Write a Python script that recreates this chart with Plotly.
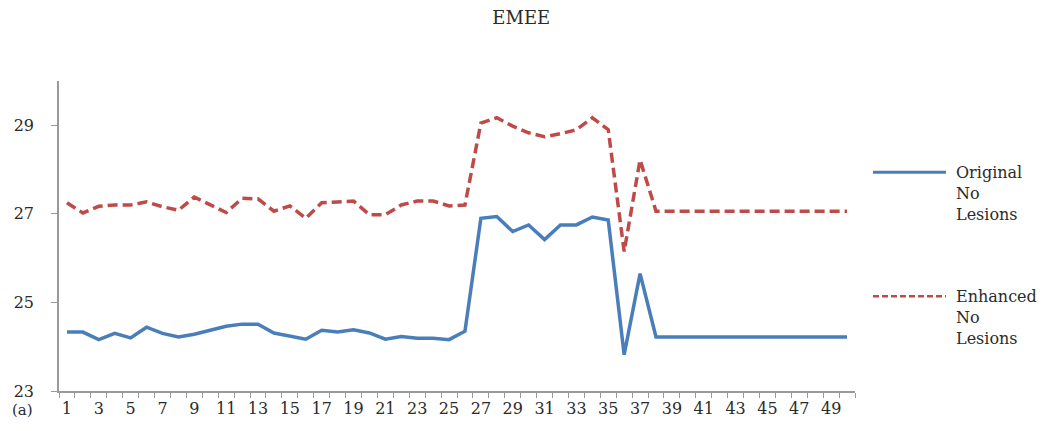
import plotly.graph_objects as go

images = list(range(1, 51))
original = [24.33, 24.33, 24.16, 24.30, 24.20, 24.44, 24.30, 24.22, 24.28, 24.37,
            24.46, 24.51, 24.51, 24.31, 24.23, 24.17, 24.37, 24.33, 24.38, 24.31,
            24.17, 24.23, 24.19, 24.19, 24.16, 24.35, 26.90, 26.94, 26.60, 26.75,
            26.42, 26.75, 26.75, 26.93, 26.86, 23.82, 25.65, 24.22, 24.22, 24.22,
            24.22, 24.22, 24.22, 24.22, 24.22, 24.22, 24.22, 24.22, 24.22, 24.22]
enhanced = [27.25, 27.02, 27.17, 27.20, 27.20, 27.27, 27.16, 27.08, 27.38, 27.20,
            27.03, 27.35, 27.34, 27.06, 27.18, 26.90, 27.25, 27.27, 27.29, 26.98,
            26.98, 27.20, 27.29, 27.29, 27.18, 27.20, 29.05, 29.17, 28.98, 28.83,
            28.74, 28.81, 28.90, 29.17, 28.90, 26.15, 28.22, 27.06, 27.06, 27.06,
            27.06, 27.06, 27.06, 27.06, 27.06, 27.06, 27.06, 27.06, 27.06, 27.06]
series_names = ["Original<br>No<br>Lesions", "Enhanced<br>No<br>Lesions"]
x_ticks = list(range(1, 50, 2))
y_ticks = [23, 25, 27, 29]

BLUE = "#4A7EBB"
RED = "#BE4B48"
FONT = "DejaVu Serif"
TXT = "#2b2b2b"

fig = go.Figure()
fig.add_trace(go.Scatter(x=images, y=original, mode="lines",
                         line=dict(color=BLUE, width=3.5), showlegend=False))
fig.add_trace(go.Scatter(x=images, y=enhanced, mode="lines",
                         line=dict(color=RED, width=3.5, dash="10px,5px"), showlegend=False))

fig.update_layout(
    width=1039, height=423,
    margin=dict(l=51, r=192, t=73, b=40, autoexpand=False),
    paper_bgcolor="white", plot_bgcolor="white",
    font=dict(family=FONT, size=15, color=TXT),
    title=dict(text="EMEE", x=0.494, xanchor="center", y=0.976, yanchor="middle",
               font=dict(family=FONT, size=18, color=TXT)),
    xaxis=dict(range=[0.5, 50.5], tickmode="array", tickvals=x_ticks,
               ticktext=[str(v) for v in x_ticks], ticks="", showgrid=False,
               zeroline=False, showline=True, linecolor="#9a9a9a", linewidth=1.5,
               ticklabelstandoff=2,
               tickfont=dict(family=FONT, size=16, color=TXT),
               minor=dict(tick0=0.5, dtick=1, ticks="outside", ticklen=5,
                          tickcolor="#9a9a9a", tickwidth=1, showgrid=False)),
    yaxis=dict(range=[23, 30], tickmode="array", tickvals=y_ticks,
               ticks="outside", ticklen=6, tickcolor="#9a9a9a", showgrid=False,
               zeroline=False, showline=True, linecolor="#9a9a9a", linewidth=1.5,
               ticklabelstandoff=14,
               tickfont=dict(family=FONT, size=16, color=TXT)),
)

# "(a)" label to the left of the category labels
fig.add_annotation(text="(a)", xref="paper", yref="paper", x=-0.030, y=-0.062,
                   xanchor="right", yanchor="middle", showarrow=False,
                   font=dict(family=FONT, size=15, color=TXT))

# manual legend on the right
leg = [(0.706, BLUE, "solid", series_names[0]), (0.306, RED, "dash", series_names[1])]
for yy, col, dash, name in leg:
    fig.add_shape(type="line", xref="paper", yref="paper",
                  x0=1.0226, x1=1.1143, y0=yy, y1=yy,
                  line=dict(color=col, width=3 if dash == "solid" else 2.5,
                            dash="solid" if dash == "solid" else "6px,3px"))
    fig.add_annotation(text=name, xref="paper", yref="paper", x=1.124, y=yy + 0.036,
                       xanchor="left", yanchor="top", align="left", showarrow=False,
                       font=dict(family=FONT, size=16, color=TXT))

fig.write_html("out.html")
